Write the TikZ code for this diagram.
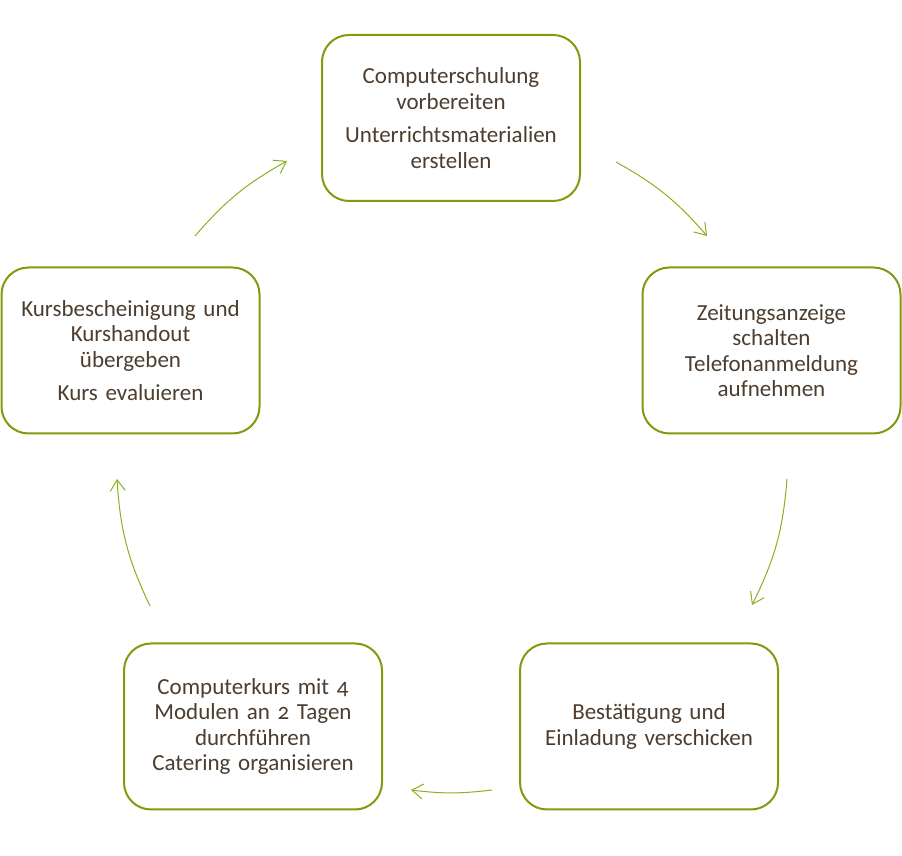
\documentclass[tikz,border=0pt]{standalone}
\usepackage{fontspec}
\setmainfont{Carlito}[Numbers=OldStyle]
\usetikzlibrary{arrows.meta}
\definecolor{boxgreen}{RGB}{127,155,14}
\definecolor{arrgreen}{RGB}{140,175,30}
\definecolor{txt}{RGB}{77,61,47}
\tikzset{
  stepbox/.style={draw=boxgreen, line width=2pt, rounded corners=27pt, fill=white,
    minimum width=258pt, minimum height=166pt, align=center, text width=250pt,
    text=txt, font=\fontsize{23}{25.5}\selectfont, inner sep=0pt},
  cyc/.style={draw=arrgreen, line width=1pt, -{Straight Barb[length=11pt,width=15pt,line width=1pt]}}
}
\begin{document}
\begin{tikzpicture}[x=1pt,y=1pt]
\useasboundingbox (0,0) rectangle (902,856);
\node[stepbox] (top) at (451,738) {Computerschulung\\vorbereiten\\[8pt]Unterrichtsmaterialien\\erstellen};
\node[stepbox] (right) at (771.5,505.5) {Zeitungsanzeige\\schalten\\Telefonanmeldung\\aufnehmen};
\node[stepbox] (br) at (649,129.5) {Bestätigung und\\Einladung verschicken};
\node[stepbox] (bl) at (253,129.5) {Computerkurs mit 4\\Modulen an 2 Tagen\\durchführen\\Catering organisieren};
\node[stepbox] (left) at (130.5,505.5) {Kursbescheinigung und\\Kurshandout\\übergeben\\[8pt]Kurs evaluieren};
\coordinate (s1) at (616,694); \coordinate (e1) at (707,620);
\coordinate (s2) at (787,377); \coordinate (e2) at (752,251);
\coordinate (s3) at (492,66);  \coordinate (e3) at (411,66);
\coordinate (s4) at (150,250); \coordinate (e4) at (117,377);
\coordinate (s5) at (195,620); \coordinate (e5) at (287,695);
\draw[cyc] (s1) to[bend left=10] (e1);
\draw[cyc] (s2) to[bend left=11] (e2);
\draw[cyc] (s3) to[bend left=7] (e3);
\draw[cyc] (s4) to[bend left=11] (e4);
\draw[cyc] (s5) to[bend left=10] (e5);
\end{tikzpicture}
\end{document}
